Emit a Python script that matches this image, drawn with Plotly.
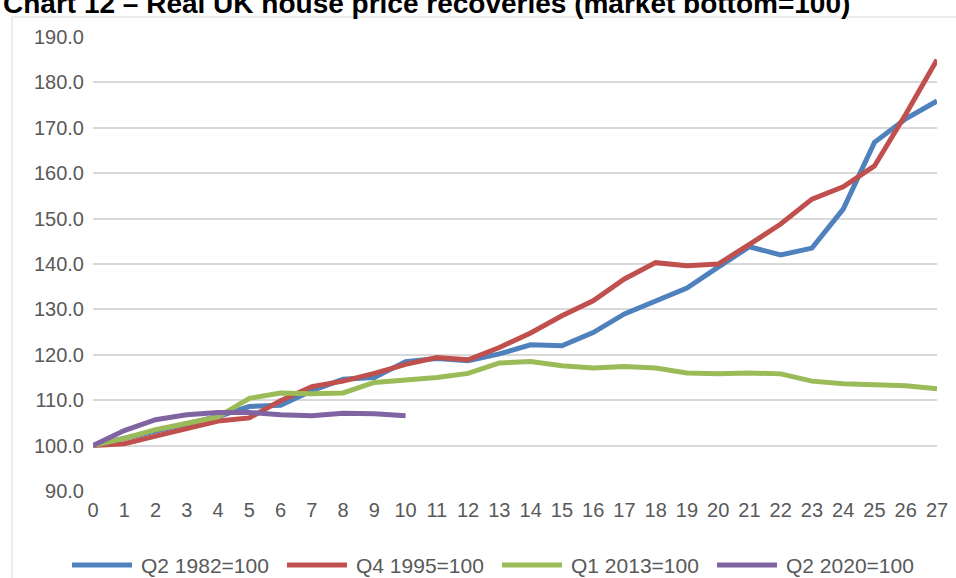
import plotly.graph_objects as go

quarters = list(range(28))
q2_1982 = [100, 101.6, 103.3, 104.8, 106.4, 108.6, 108.9, 112.1, 114.6, 115.0, 118.5, 119.2,
           118.7, 120.2, 122.2, 122.0, 124.9, 129.0, 131.9, 134.7, 139.3, 143.8, 142.0, 143.5,
           152.1, 166.8, 172.0, 175.9]
q4_1995 = [100, 100.4, 102.1, 103.7, 105.4, 106.1, 109.9, 113.0, 114.2, 115.9, 117.9, 119.4,
           118.9, 121.6, 124.8, 128.6, 131.9, 136.7, 140.3, 139.6, 140.0, 144.3, 148.8, 154.3,
           157.0, 161.6, 173.0, 185.0]
q1_2013 = [100, 101.6, 103.5, 104.8, 106.3, 110.4, 111.6, 111.4, 111.6, 113.9, 114.4, 115.0,
           115.9, 118.2, 118.5, 117.6, 117.1, 117.4, 117.1, 116.0, 115.8, 116.0, 115.8, 114.2,
           113.6, 113.4, 113.2, 112.5]
q2_2020 = [100, 103.3, 105.7, 106.8, 107.3, 107.3, 106.8, 106.6, 107.1, 107.0, 106.6]

series_names = ["Q2 1982=100", "Q4 1995=100", "Q1 2013=100", "Q2 2020=100"]
series_values = [q2_1982, q4_1995, q1_2013, q2_2020]
series_colors = ["#4F81BD", "#C0504D", "#9BBB59", "#8064A2"]

FONT = "Liberation Sans, Arial, sans-serif"
GREY = "#595959"

W, H = 956, 578
L, R, T, B = 93, 19, 37, 87
pw, ph = W - L - R, H - T - B


def px(x):
    return (x - L) / pw


def py(y):
    return (H - B - y) / ph


fig = go.Figure()
for name, vals, col in zip(series_names, series_values, series_colors):
    fig.add_trace(go.Scatter(x=quarters[:len(vals)], y=vals, mode="lines", name=name,
                             line=dict(color=col, width=5), showlegend=False))

# custom legend (longer line samples, as in the reference)
shapes = [dict(type="rect", xref="paper", yref="paper", x0=px(12), x1=px(975),
               y0=py(600), y1=py(17), line=dict(color="#D9D9D9", width=1),
               fillcolor="rgba(0,0,0,0)", layer="below")]
annotations = [dict(text="<b>Chart 12 – Real UK house price recoveries (market bottom=100)</b>",
                    xref="paper", yref="paper", x=px(1), xanchor="left", y=py(3),
                    yanchor="middle", showarrow=False,
                    font=dict(family=FONT, size=28, color="#000000"))]
leg_y = 565
leg_x0 = 72
step = 215
for i, (name, col) in enumerate(zip(series_names, series_colors)):
    x0 = leg_x0 + i * step
    shapes.append(dict(type="line", xref="paper", yref="paper", x0=px(x0), x1=px(x0 + 60),
                       y0=py(leg_y), y1=py(leg_y), line=dict(color=col, width=5)))
    annotations.append(dict(text=name, xref="paper", yref="paper", x=px(x0 + 67),
                            xanchor="left", y=py(leg_y), yanchor="middle", showarrow=False,
                            font=dict(family=FONT, size=21, color=GREY)))

fig.update_layout(
    width=W, height=H,
    margin=dict(l=L, r=R, t=T, b=B, autoexpand=False),
    paper_bgcolor="white", plot_bgcolor="white",
    font=dict(family=FONT, size=20, color=GREY),
    showlegend=False,
    xaxis=dict(range=[0, 27], tickmode="linear", tick0=0, dtick=1, showgrid=False,
               zeroline=False, showline=False, ticks="", ticklabelstandoff=5,
               tickfont=dict(size=20, color=GREY)),
    yaxis=dict(range=[90, 190], tickmode="linear", tick0=90, dtick=10, tickformat=".1f",
               showgrid=True, gridcolor="#D9D9D9", gridwidth=1.5, zeroline=False,
               showline=False, ticks="", ticklabelstandoff=8,
               tickfont=dict(size=20, color=GREY)),
    shapes=shapes,
    annotations=annotations,
)

fig.write_html("out.html")
